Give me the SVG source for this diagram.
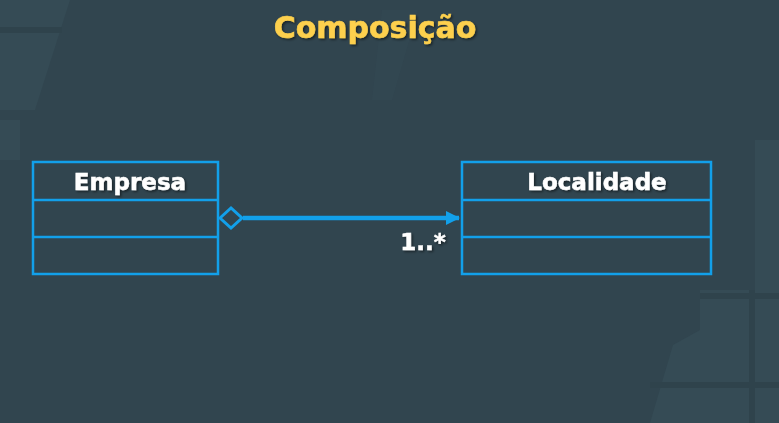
<svg xmlns="http://www.w3.org/2000/svg" width="779" height="423" viewBox="0 0 779 423">
<style>
.bg{fill:#31454f}
.patch{fill:#354b55}
.seam{stroke:#2f434c;stroke-width:6;fill:none}
.box{fill:none;stroke:#12a0ea;stroke-width:2.5}
.lbl{font-family:"DejaVu Sans",Verdana,sans-serif;font-weight:bold;font-size:23px;fill:#ffffff;stroke:#ffffff;stroke-width:0.5}
.title{font-family:"DejaVu Sans",Verdana,sans-serif;font-weight:bold;font-size:30px;fill:#fdd04e;stroke:#fdd04e;stroke-width:0.6}
.conn{stroke:#12a0ea;stroke-width:4.5;fill:none}
</style>
<defs>
<filter id="sh" x="-10%" y="-20%" width="130%" height="150%">
<feDropShadow dx="1.5" dy="1.5" stdDeviation="0.8" flood-color="#000" flood-opacity="0.5"/>
</filter>
<marker id="arrow" viewBox="0 0 14 14" refX="13" refY="7" markerWidth="14" markerHeight="14" markerUnits="userSpaceOnUse" orient="auto">
<path d="M0,0 L14,7 L0,14 Z" fill="#12a0ea"/>
</marker>
</defs>
<rect class="bg" x="0" y="0" width="779" height="423"/>
<g id="background">
<polygon class="patch" points="0,0 70,0 35,110 0,110"/>
<polygon class="patch" points="0,120 20,120 20,160 0,160"/>
<polygon class="patch" points="755,140 779,140 779,423 650,423 673,345 700,330 700,290 755,290"/>
<polygon class="patch" points="382,10 418,10 392,100 372,100" opacity="0.4"/>
<line class="seam" x1="0" y1="30" x2="62" y2="30"/>
<line class="seam" x1="650" y1="385" x2="779" y2="385"/>
<line class="seam" x1="752" y1="290" x2="752" y2="423"/>
<line class="seam" x1="700" y1="296" x2="779" y2="296" stroke-width="18"/>
</g>
<text class="title" x="375" y="38" text-anchor="middle" filter="url(#sh)">Composição</text>
<g id="empresa">
<rect class="box" x="33" y="162" width="185" height="112"/>
<line class="box" x1="33" y1="200" x2="218" y2="200"/>
<line class="box" x1="33" y1="237" x2="218" y2="237"/>
<text class="lbl" x="130" y="190" text-anchor="middle" filter="url(#sh)">Empresa</text>
</g>
<g id="localidade">
<rect class="box" x="462" y="162" width="249" height="112"/>
<line class="box" x1="462" y1="200" x2="711" y2="200"/>
<line class="box" x1="462" y1="237" x2="711" y2="237"/>
<text class="lbl" x="597" y="190" text-anchor="middle" filter="url(#sh)">Localidade</text>
</g>
<g id="connectors">
<line class="conn" x1="243" y1="218" x2="459" y2="218" marker-end="url(#arrow)"/>
<polygon points="220,218 231,208 242,218 231,228" fill="none" stroke="#12a0ea" stroke-width="3"/>
<text class="lbl" x="423" y="250" text-anchor="middle" filter="url(#sh)">1..*</text>
</g>
</svg>
